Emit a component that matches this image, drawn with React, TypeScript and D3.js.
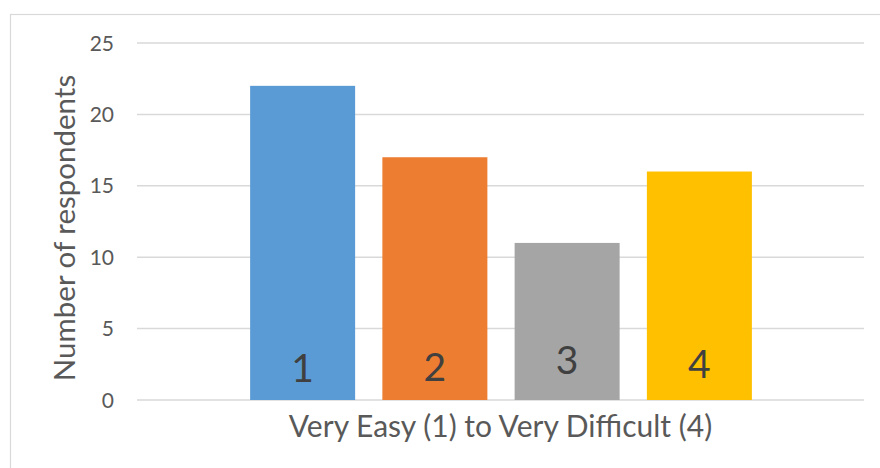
import { useEffect, useRef } from 'react';
import * as d3 from 'd3';

const categories = ['1', '2', '3', '4'];
const values = [22, 17, 11, 16];
const colors = ['#5B9BD5', '#ED7D31', '#A5A5A5', '#FFC000'];
const yTicks = [0, 5, 10, 15, 20, 25];
// the numbers printed inside the bars sit at slightly different heights
const labelOffsets = [18, 19, 26, 22];

const FONT = 'Lato, "Open Sans", sans-serif';

export default function App() {
  const ref = useRef<SVGSVGElement>(null);

  useEffect(() => {
    const width = 880;
    const height = 468;
    const margin = { top: 43, right: 16, bottom: 68, left: 137 };
    const innerWidth = width - margin.left - margin.right;
    const innerHeight = height - margin.top - margin.bottom;

    const svg = d3.select(ref.current);
    svg.selectAll('*').remove();

    svg.append('rect')
      .attr('x', 10.5)
      .attr('y', 14.5)
      .attr('width', 900)
      .attr('height', 500)
      .attr('fill', 'white')
      .attr('stroke', '#d9d9d9')
      .attr('stroke-width', 1.2);

    const g = svg.append('g').attr('transform', `translate(${margin.left}, ${margin.top})`);

    const y = d3.scaleLinear().domain([0, 25]).range([innerHeight, 0]);
    const x = d3.scaleBand()
      .domain(categories)
      .range([99.5, 628.5])
      .paddingInner(0.206)
      .paddingOuter(0.103);

    g.selectAll('.grid')
      .data(yTicks)
      .join('line')
      .attr('class', 'grid')
      .attr('x1', 0)
      .attr('x2', innerWidth)
      .attr('y1', d => y(d))
      .attr('y2', d => y(d))
      .attr('stroke', '#d9d9d9')
      .attr('stroke-width', 1.5);

    g.selectAll('.tick-label')
      .data(yTicks)
      .join('text')
      .attr('class', 'tick-label')
      .attr('x', -23)
      .attr('y', d => y(d) + 7.5)
      .attr('text-anchor', 'end')
      .attr('font-family', FONT)
      .attr('font-size', 21)
      .attr('fill', '#595959')
      .text(d => d);

    g.selectAll('.bar')
      .data(values)
      .join('rect')
      .attr('class', 'bar')
      .attr('x', (d, i) => x(categories[i])!)
      .attr('width', x.bandwidth())
      .attr('y', d => y(d))
      .attr('height', d => innerHeight - y(d))
      .attr('fill', (d, i) => colors[i]);

    g.selectAll('.bar-label')
      .data(categories)
      .join('text')
      .attr('class', 'bar-label')
      .attr('x', d => x(d)! + x.bandwidth() / 2)
      .attr('y', (d, i) => innerHeight - labelOffsets[i])
      .attr('text-anchor', 'middle')
      .attr('font-family', FONT)
      .attr('font-size', 39)
      .attr('fill', '#404040')
      .text(d => d);

    g.append('text')
      .attr('x', innerWidth / 2)
      .attr('y', innerHeight + 37)
      .attr('text-anchor', 'middle')
      .attr('font-family', FONT)
      .attr('font-size', 30)
      .attr('fill', '#595959')
      .text('Very Easy (1) to Very Difficult (4)');

    g.append('text')
      .attr('transform', `translate(${75 - margin.left}, ${228 - margin.top}) rotate(-90)`)
      .attr('text-anchor', 'middle')
      .attr('font-family', FONT)
      .attr('font-size', 29.5)
      .attr('fill', '#595959')
      .text('Number of respondents');
  }, []);

  return (
    <svg
      ref={ref}
      width={880}
      height={468}
      style={{ position: 'absolute', left: 0, top: 0, background: 'white' }}
    />
  );
}
